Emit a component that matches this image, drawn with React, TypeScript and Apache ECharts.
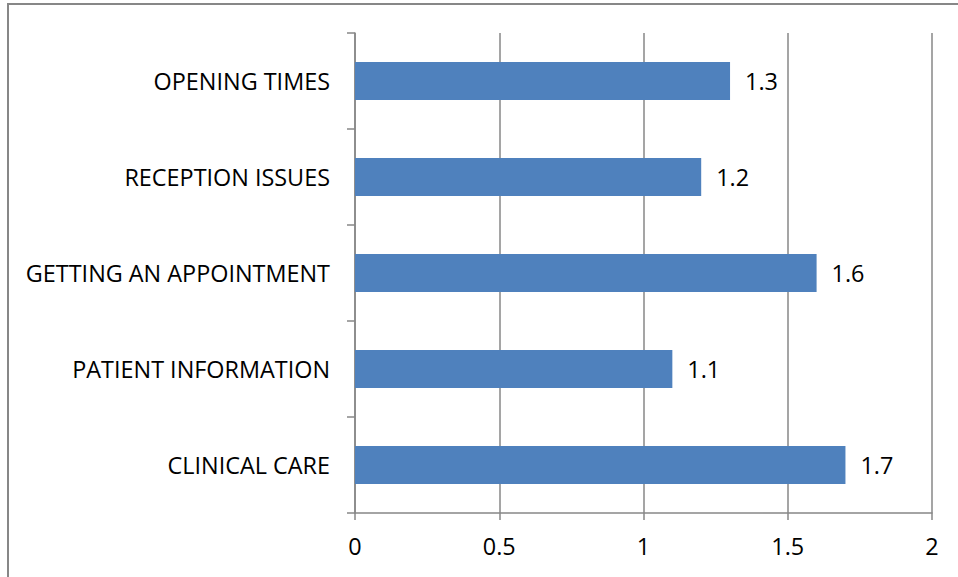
import React, { useEffect, useRef } from "react";
import * as echarts from "echarts";

const categories = [
  "OPENING TIMES",
  "RECEPTION ISSUES",
  "GETTING AN APPOINTMENT",
  "PATIENT INFORMATION",
  "CLINICAL CARE",
];
const scores = [1.3, 1.2, 1.6, 1.1, 1.7];
const xTicks = { min: 0, max: 2, interval: 0.5 };

const GRAY = "#878787";
const BAR = "#4F81BD";
const FONT = "'Open Sans', sans-serif";
const FONT_SIZE = 23.4;

export default function App() {
  const ref = useRef<HTMLDivElement>(null);

  useEffect(() => {
    if (!ref.current) return;
    const chart = echarts.init(ref.current, undefined, { renderer: "svg" });
    chart.setOption({
      animation: false,
      backgroundColor: "#ffffff",
      graphic: [
        {
          type: "rect",
          shape: { x: 8, y: 4, width: 1000, height: 700 },
          style: { fill: "none", stroke: GRAY, lineWidth: 2 },
          silent: true,
        },
      ],
      grid: { left: 355, right: 26, top: 33, bottom: 64 },
      xAxis: {
        type: "value",
        min: xTicks.min,
        max: xTicks.max,
        interval: xTicks.interval,
        axisLine: { show: true, lineStyle: { color: GRAY, width: 1.5 } },
        axisTick: { show: true, length: 7, lineStyle: { color: GRAY, width: 1.5 } },
        splitLine: { show: true, lineStyle: { color: GRAY, width: 1.5 } },
        axisLabel: {
          margin: 21,
          color: "#000",
          fontSize: FONT_SIZE,
          fontFamily: FONT,
        },
      },
      yAxis: {
        type: "category",
        inverse: true,
        data: categories,
        axisLine: { show: true, lineStyle: { color: GRAY, width: 1.5 } },
        axisTick: { show: true, length: 8, lineStyle: { color: GRAY, width: 1.5 } },
        axisLabel: {
          margin: 25,
          color: "#000",
          fontSize: FONT_SIZE,
          fontFamily: FONT,
        },
      },
      series: [
        {
          type: "bar",
          data: scores,
          barWidth: 38,
          itemStyle: { color: BAR },
          label: {
            show: true,
            position: "right",
            distance: 15,
            color: "#000",
            fontSize: FONT_SIZE,
            fontFamily: FONT,
          },
        },
      ],
    });
    return () => chart.dispose();
  }, []);

  return (
    <div
      ref={ref}
      style={{ position: "fixed", left: 0, top: 0, width: 958, height: 577 }}
    />
  );
}
